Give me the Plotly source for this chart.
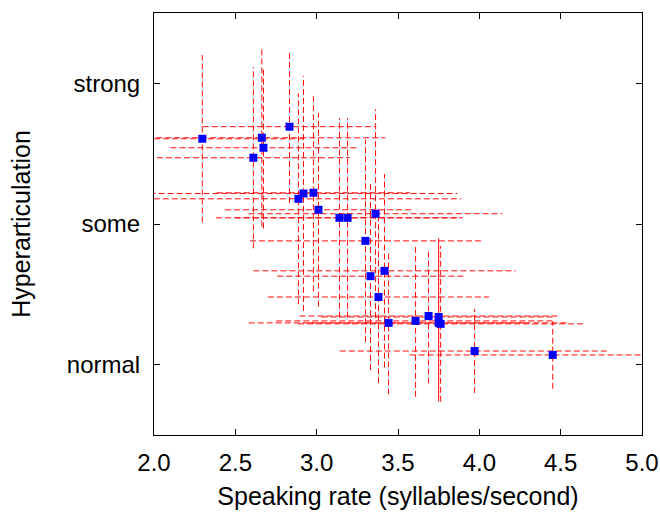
import plotly.graph_objects as go

# Data
rate = [2.297, 2.663, 2.833, 2.673, 2.611, 2.919, 2.980, 2.888, 3.011, 3.140, 3.190, 3.362,
        3.300, 3.417, 3.331, 3.380, 3.442, 3.608, 3.688, 3.750, 3.750, 3.762, 3.971, 4.451]
hyper = [1.606, 1.613, 1.692, 1.542, 1.471, 1.217, 1.222, 1.179, 1.101, 1.044, 1.044, 1.073,
         0.880, 0.667, 0.629, 0.481, 0.297, 0.311, 0.346, 0.339, 0.297, 0.290, 0.097, 0.069]
rate_err = [0.63, 0.76, 0.533, 0.572, 0.593, 0.946, 0.595, 1.00, 0.574, 0.759, 0.69, 0.78,
            0.71, 0.806, 0.573, 0.68, 0.86, 0.856, 0.794, 0.72, 0.80, 0.877, 0.829, 0.88]
hyper_err = [0.595, 0.63, 0.543, 0.575, 0.644, 0.835, 0.70, 0.75, 0.688, 0.71, 0.71, 0.742,
             0.72, 0.688, 0.667, 0.613, 0.508, 0.54, 0.48, 0.57, 0.56, 0.554, 0.299, 0.24]

y_tickvals = [0, 1, 2]
y_ticktext = ["normal", "some", "strong"]
x_tickvals = [2.0, 2.5, 3.0, 3.5, 4.0, 4.5, 5.0]

# Build dashed error segments from the data
hx, hy, vx, vy = [], [], [], []
for x, y, ex, ey in zip(rate, hyper, rate_err, hyper_err):
    hx += [x - ex, x + ex, None]
    hy += [y, y, None]
    vx += [x, x, None]
    vy += [y - ey, y + ey, None]

line_style = dict(color="rgba(255,0,0,0.95)", width=1, dash="6px,3px")

fig = go.Figure()
fig.add_trace(go.Scatter(x=hx, y=hy, mode="lines", line=line_style,
                         hoverinfo="skip", showlegend=False))
fig.add_trace(go.Scatter(x=vx, y=vy, mode="lines", line=line_style,
                         hoverinfo="skip", showlegend=False))
fig.add_trace(go.Scatter(x=rate, y=hyper, mode="markers",
                         marker=dict(symbol="square", size=8, color="#0000ff",
                                     line=dict(width=0)),
                         showlegend=False))

fam = "Liberation Sans, Arial, sans-serif"
tickfont = dict(family=fam, size=24, color="black")
titlefont = dict(family=fam, size=25, color="black")

fig.update_layout(
    width=660, height=513,
    margin=dict(l=154, r=18, t=13, b=78),
    paper_bgcolor="white", plot_bgcolor="white",
    font=dict(family=fam, color="black"),
    xaxis=dict(
        range=[2.0, 5.0], tickvals=x_tickvals, ticktext=[f"{v:.1f}" for v in x_tickvals],
        ticks="inside", ticklen=6, tickcolor="black", tickwidth=1,
        showline=True, linecolor="black", linewidth=1, mirror="ticks",
        showgrid=False, zeroline=False, tickfont=tickfont, automargin=False,
        title=dict(text="Speaking rate (syllables/second)", standoff=12, font=titlefont),
        ticklabelstandoff=6,
    ),
    yaxis=dict(
        range=[-0.5, 2.5], tickvals=y_tickvals, ticktext=y_ticktext,
        ticks="inside", ticklen=6, tickcolor="black", tickwidth=1,
        showline=True, linecolor="black", linewidth=1, mirror="ticks",
        showgrid=False, zeroline=False, tickfont=tickfont, automargin=False,
        title=dict(text="Hyperarticulation", standoff=29, font=titlefont),
        ticklabelstandoff=8,
    ),
)

fig.write_html("out.html")
